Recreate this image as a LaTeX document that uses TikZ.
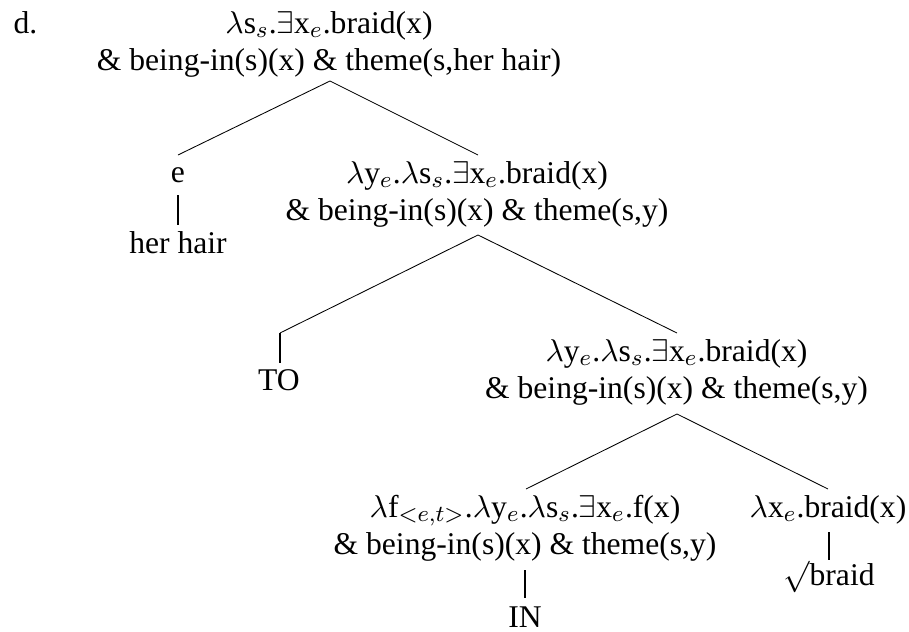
\documentclass[tikz,border=0pt]{standalone}
\usepackage{fontspec}
\setmainfont{Liberation Serif}
\begin{document}
\begin{tikzpicture}[x=0.348pt,y=-0.348pt,
  lbl/.style={inner sep=0pt, anchor=base, font=\fontsize{11}{13}\selectfont},
  branch/.style={line width=0.3pt},
  unary/.style={line width=0.55pt}]
\useasboundingbox (0,0) rectangle (909,632);
% root
\node[lbl, anchor=base west] (dlab) at (13,33) {d.};
\node[lbl] (r1) at (329,33) {$\lambda$s$_s$.$\exists$x$_e$.braid(x)};
\node[lbl] (r2) at (329,70) {\& being-in(s)(x) \& theme(s,her hair)};
\coordinate (rB) at (330,81);
% e / her hair
\coordinate (eT) at (178,155);
\node[lbl] (e) at (178,182) {e};
\coordinate (eB) at (178,195);
\coordinate (hT) at (178,225);
\node[lbl] (hh) at (178,253) {her hair};
% node a
\coordinate (aT) at (478,155);
\node[lbl] (a1) at (477,183) {$\lambda$y$_e$.$\lambda$s$_s$.$\exists$x$_e$.braid(x)};
\node[lbl] (a2) at (477,220) {\& being-in(s)(x) \& theme(s,y)};
\coordinate (aB) at (478,235);
% TO
\coordinate (toT) at (280,333);
\coordinate (toB) at (280,363);
\node[lbl] (to) at (279,390) {TO};
% node b
\coordinate (bT) at (677,333);
\node[lbl] (b1) at (676.5,361) {$\lambda$y$_e$.$\lambda$s$_s$.$\exists$x$_e$.braid(x)};
\node[lbl] (b2) at (676.5,398) {\& being-in(s)(x) \& theme(s,y)};
\coordinate (bB) at (677,414);
% node c
\coordinate (cT) at (526,489);
\node[lbl] (c1) at (525,517) {$\lambda$f$_{<e,t>}$.$\lambda$y$_e$.$\lambda$s$_s$.$\exists$x$_e$.f(x)};
\node[lbl] (c2) at (525,554) {\& being-in(s)(x) \& theme(s,y)};
\coordinate (cB) at (525,570);
\coordinate (inT) at (525,598);
\node[lbl] (in) at (525,627) {IN};
% node d
\coordinate (dT) at (828,489);
\node[lbl] (d1) at (828,517) {$\lambda$x$_e$.braid(x)};
\coordinate (dB) at (829,532);
\coordinate (rtT) at (829,560);
\node[lbl] (rt) at (829,585) {$\surd$braid};
% connectors
\draw[branch] (eT) -- (rB) -- (aT);
\draw[branch] (toT) -- (aB) -- (bT);
\draw[branch] (cT) -- (bB) -- (dT);
\draw[unary] (eB) -- (hT);
\draw[unary] (toT) -- (toB);
\draw[unary] (cB) -- (inT);
\draw[unary] (dB) -- (rtT);
\end{tikzpicture}
\end{document}
